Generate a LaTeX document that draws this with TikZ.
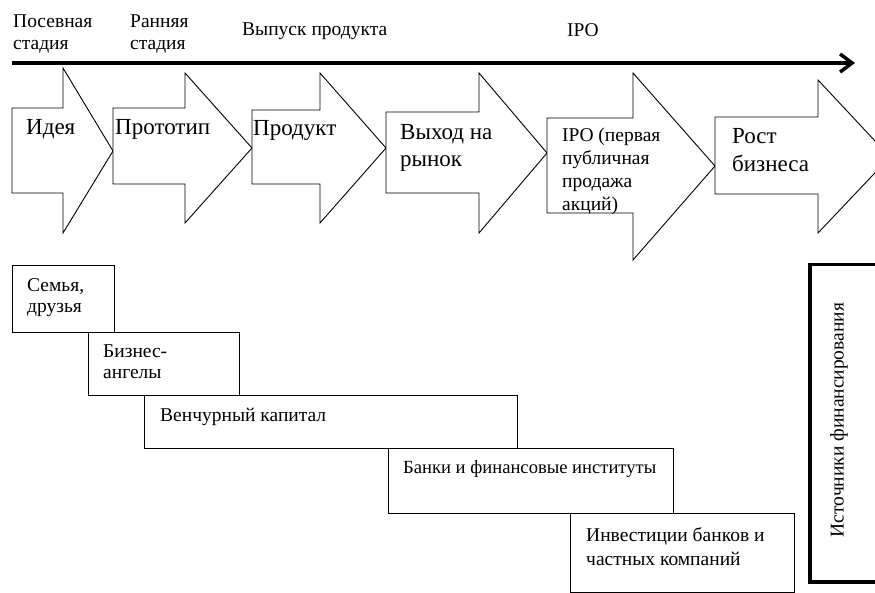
\documentclass[tikz,border=0pt]{standalone}
\usepackage{fontspec}
\setmainfont{Liberation Serif}
\usetikzlibrary{arrows.meta}

\begin{document}
\begin{tikzpicture}[x=1pt,y=-1pt,
  stage/.style={draw, line width=0.9pt, fill=white},
  bigtext/.style={anchor=north west, inner sep=0pt, align=left, font=\fontsize{23}{27}\selectfont},
  smalltext/.style={anchor=north west, inner sep=0pt, align=left, font=\fontsize{19.5}{22}\selectfont},
  fund/.style={draw, line width=1.1pt, anchor=north west, inner sep=0pt}]
\useasboundingbox (0,0) rectangle (875,593);
\clip (0,0) rectangle (875,593);

% time line
\node[smalltext] (seed) at (13,15) {Посевная\\стадия};
\node[smalltext] (early) at (130,15) {Ранняя\\стадия};
\node[smalltext] (release) at (242,23) {Выпуск продукта};
\node[smalltext] (ipohead) at (567,23) {IPO};
\coordinate (start) at (12,63);
\coordinate (finish) at (855,63);
\draw[line width=3.5pt, -{Straight Barb[length=12pt,width=18pt]}] (start) -- (finish);

% stages
\draw[stage] (12,108) -- (63,108) -- (63,68) -- (113,151) -- (63,233) -- (63,193) -- (12,193) -- cycle;
\draw[stage] (113,108) -- (185,108) -- (185,73) -- (252,148) -- (185,223) -- (185,184) -- (113,184) -- cycle;
\draw[stage] (252,110) -- (320,110) -- (320,73) -- (386,148) -- (320,223) -- (320,184) -- (252,184) -- cycle;
\draw[stage] (386,112) -- (479,112) -- (479,73) -- (547,153) -- (479,233) -- (479,193) -- (386,193) -- cycle;
\draw[stage] (547,118) -- (633,118) -- (633,73) -- (715,166) -- (633,260) -- (633,213) -- (547,213) -- cycle;
\draw[stage] (715,117) -- (818,117) -- (818,80) -- (890,157) -- (818,233) -- (818,194) -- (715,194) -- cycle;

\node[bigtext] (idea) at (26,119) {Идея};
\node[bigtext] (proto) at (115,119) {Прототип};
\node[bigtext] (product) at (253,120) {Продукт};
\node[bigtext] (market) at (400,124) {Выход на\\рынок};
\node[smalltext, font=\fontsize{19.5}{23}\selectfont] (ipo) at (562,128) {IPO (первая\\публичная\\продажа\\акций)};
\node[bigtext, font=\fontsize{23}{28}\selectfont] (growth) at (732,128) {Рост\\бизнеса};

% sources of funding
\node[fund, minimum width=102pt, minimum height=67pt] (family) at (12,265) {};
\node[fund, minimum width=151pt, minimum height=63pt] (angels) at (88,332) {};
\node[fund, minimum width=373pt, minimum height=53pt] (venture) at (144,395) {};
\node[fund, minimum width=285pt, minimum height=65pt] (banks) at (388,448) {};
\node[fund, minimum width=224pt, minimum height=79pt] (investors) at (570,513) {};
\node[fund, line width=3.5pt, minimum width=90pt, minimum height=317pt] (sources) at (808,263) {};

\node[smalltext, font=\fontsize{19.5}{21}\selectfont] (familytext) at (27,278) {Семья,\\друзья};
\node[smalltext, font=\fontsize{19.5}{21}\selectfont] (angelstext) at (103,345) {Бизнес-\\ангелы};
\node[smalltext] (venturetext) at (160,408) {Венчурный капитал};
\node[smalltext, font=\fontsize{18.6}{22}\selectfont] (bankstext) at (403,460) {Банки и финансовые институты};
\node[smalltext, font=\fontsize{19.5}{24}\selectfont] (investorstext) at (586,527) {Инвестиции банков и\\частных компаний};
\node[smalltext, anchor=center, rotate=90] (sourcestext) at (839,420) {Источники финансирования};

\end{tikzpicture}
\end{document}
